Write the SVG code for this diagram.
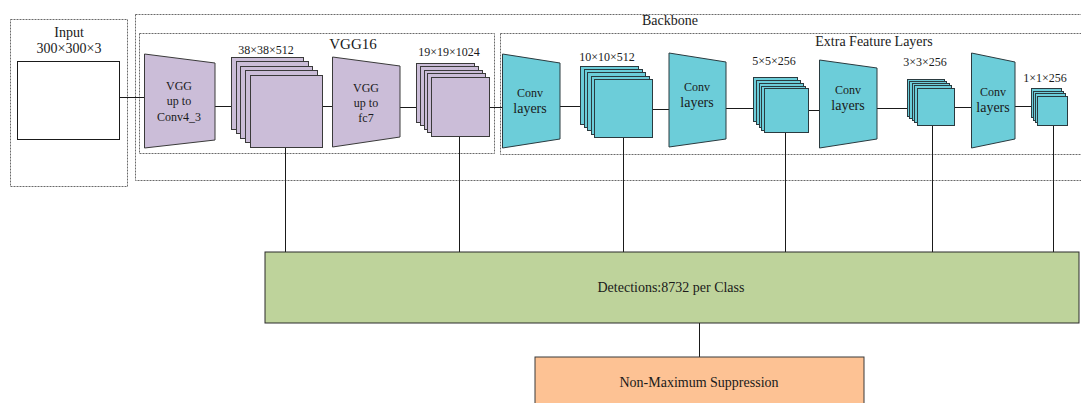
<svg xmlns="http://www.w3.org/2000/svg" width="1081" height="403" viewBox="0 0 1081 403">
<style>
text{font-family:'Liberation Serif','DejaVu Serif',serif;fill:#1a1a1a;text-anchor:middle}
.dot{fill:none;stroke:#6a6a6a;stroke-width:1;stroke-dasharray:2,1}
.p{fill:#cbbdd8;stroke:#3a3a3a;stroke-width:1}
.t{fill:#6ccdd9;stroke:#2a3a3f;stroke-width:1}
.ln{stroke:#1a1a1a;stroke-width:1;fill:none}
.s11{font-size:12px}
.s12{font-size:12px}
.s13{font-size:14px}
.s14{font-size:14px}
</style>
<rect width="1081" height="403" fill="#fff"/>
<g font-family="Liberation Serif, DejaVu Serif, serif">
<g id="groups">
<rect class="dot" x="10.5" y="19.5" width="117" height="167"/>
<rect class="dot" x="135.5" y="14.5" width="960" height="166"/>
<rect class="dot" x="139.5" y="33.5" width="355" height="120"/>
<rect class="dot" x="500.5" y="33.5" width="600" height="121"/>
<text class="s13" x="670" y="25">Backbone</text>
<text x="353" y="49" style="font-size:15px">VGG16</text>
<text class="s13" x="874" y="46">Extra Feature Layers</text>
</g>
<g id="connectors">
<path class="ln" d="M119 97.5H144 M215 106.5H250 M322 106.5H332 M400 107.5H431 M489 107.5H502 M560 106.5H594 M652 109.5H669 M726 108.5H764 M808 110.5H819 M877 108.5H917 M954 107.5H971 M1015 106.5H1037"/>
<path class="ln" d="M285.5 147V252 M459.5 136V252 M623.5 137V252 M785.5 132V252 M932.5 125V252 M1053.5 125V252 M699.5 323V357"/>
</g>
<g id="input">
<text class="s13" x="69" y="37">Input</text>
<text class="s13" x="69" y="53">300×300×3</text>
<rect x="17.5" y="61.5" width="102" height="78" fill="#fff" stroke="#1a1a1a"/>
</g>
<g id="vgg-conv4">
<polygon class="p" points="144.5,54 215,63 215,140 144.5,148"/>
<text class="s12" x="179" y="90">VGG</text>
<text class="s12" x="179" y="105">up to</text>
<text class="s12" x="179" y="121">Conv4_3</text>
</g>
<g id="fm38">
<text class="s11" x="266" y="54">38×38×512</text>
<rect class="p" x="231.5" y="57.5" width="72" height="72"/>
<rect class="p" x="236.5" y="61.5" width="72" height="72"/>
<rect class="p" x="240.5" y="66.5" width="72" height="72"/>
<rect class="p" x="245.5" y="70.5" width="72" height="72"/>
<rect class="p" x="250.5" y="75.5" width="72" height="72"/>
</g>
<g id="vgg-fc7">
<polygon class="p" points="332.5,57 400,66 400,137 332.5,147"/>
<text class="s12" x="366" y="92">VGG</text>
<text class="s12" x="366" y="107">up to</text>
<text class="s12" x="366" y="122">fc7</text>
</g>
<g id="fm19">
<text class="s11" x="449" y="56">19×19×1024</text>
<rect class="p" x="416.5" y="63.5" width="58" height="59"/>
<rect class="p" x="420.5" y="66.5" width="58" height="59"/>
<rect class="p" x="424.5" y="70.5" width="58" height="59"/>
<rect class="p" x="427.5" y="73.5" width="58" height="59"/>
<rect class="p" x="431.5" y="77.5" width="58" height="59"/>
</g>
<g id="conv1">
<polygon class="t" points="502.5,54 560,63 560,139 502.5,148"/>
<text class="s12" x="530" y="97">Conv</text>
<text class="s14" x="530" y="113">layers</text>
</g>
<g id="fm10">
<text class="s11" x="607" y="61">10×10×512</text>
<rect class="t" x="580.5" y="66.5" width="58" height="58"/>
<rect class="t" x="584.5" y="69.5" width="58" height="58"/>
<rect class="t" x="587.5" y="72.5" width="58" height="58"/>
<rect class="t" x="591.5" y="76.5" width="58" height="58"/>
<rect class="t" x="594.5" y="79.5" width="58" height="58"/>
</g>
<g id="conv2">
<polygon class="t" points="669,53 726,62 726,139 669,147"/>
<text class="s12" x="697" y="91">Conv</text>
<text class="s14" x="697" y="107">layers</text>
</g>
<g id="fm5">
<text class="s11" x="774" y="65">5×5×256</text>
<rect class="t" x="753.5" y="77.5" width="44" height="44"/>
<rect class="t" x="756.5" y="80.5" width="44" height="44"/>
<rect class="t" x="759.5" y="83.5" width="44" height="44"/>
<rect class="t" x="761.5" y="86.5" width="44" height="44"/>
<rect class="t" x="764.5" y="88.5" width="44" height="44"/>
</g>
<g id="conv3">
<polygon class="t" points="819.5,60 877,68 877,139 819.5,148"/>
<text class="s12" x="848" y="94">Conv</text>
<text class="s14" x="848" y="110">layers</text>
</g>
<g id="fm3">
<text class="s11" x="925" y="66">3×3×256</text>
<rect class="t" x="907.5" y="79.5" width="37" height="37"/>
<rect class="t" x="909.5" y="81.5" width="37" height="37"/>
<rect class="t" x="912.5" y="83.5" width="37" height="37"/>
<rect class="t" x="914.5" y="85.5" width="37" height="37"/>
<rect class="t" x="917.5" y="88.5" width="37" height="37"/>
</g>
<g id="conv4">
<polygon class="t" points="971.5,53 1015,62 1015,139 971.5,148"/>
<text class="s12" x="993" y="96">Conv</text>
<text class="s14" x="993" y="112">layers</text>
</g>
<g id="fm1">
<text class="s11" x="1045" y="82">1×1×256</text>
<rect class="t" x="1031.5" y="88.5" width="30" height="29"/>
<rect class="t" x="1033.5" y="91.5" width="30" height="29"/>
<rect class="t" x="1035.5" y="93.5" width="30" height="29"/>
<rect class="t" x="1037.5" y="96.5" width="30" height="29"/>
</g>
<g id="detections">
<rect x="265" y="252" width="814" height="71" fill="#bed39b" stroke="#2a2a2a" stroke-width="1"/>
<text class="s13" x="671" y="292">Detections:8732 per Class</text>
</g>
<g id="nms">
<rect x="535" y="357" width="329" height="50" fill="#fdc294" stroke="#3a3a3a" stroke-width="1"/>
<text class="s13" x="699" y="387">Non-Maximum Suppression</text>
</g>
</g>
</svg>
